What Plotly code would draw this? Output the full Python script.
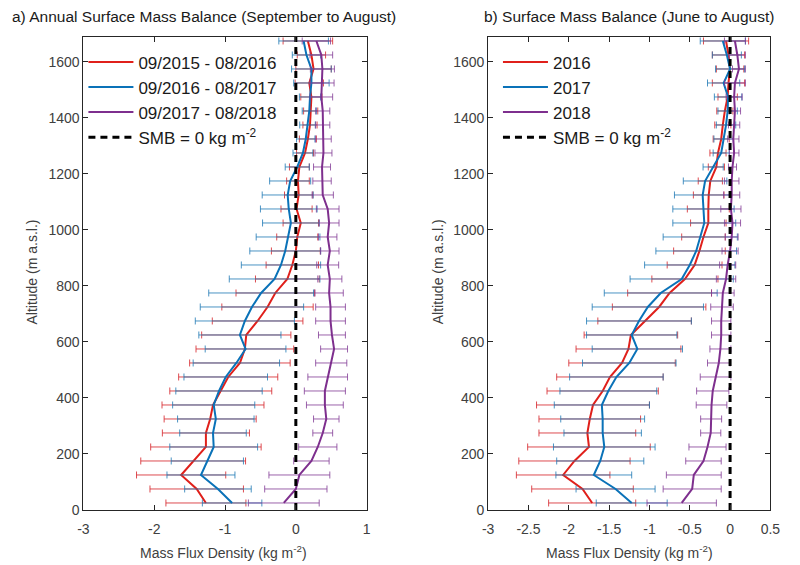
import plotly.graph_objects as go

# Altitude bins (m a.s.l.)
altitude = [25, 75, 125, 175, 225, 275, 325, 375, 425, 475, 525, 575, 625, 675, 725, 775, 825,
            875, 925, 975, 1025, 1075, 1125, 1175, 1225, 1275, 1325, 1375, 1425, 1475, 1525,
            1575, 1625, 1675]

# ---- Panel a) annual SMB (Sep-Aug) ----
a_2016_mean = [-1.27, -1.40, -1.62, -1.45, -1.27, -1.27, -1.21, -1.17, -1.06, -0.955, -0.79, -0.72,
               -0.70, -0.54, -0.40, -0.29, -0.12, -0.05, 0.00, 0.02, 0.07, 0.01, 0.04, 0.03, 0.05,
               0.13, 0.17, 0.20, 0.21, 0.22, 0.19, 0.25, 0.22, 0.17]
a_2016_err = [0.565, 0.66, 0.63, 0.74, 0.78, 0.615, 0.65, 0.72, 0.72, 0.70, 0.71, 0.69, 0.63, 0.64,
              0.645, 0.555, 0.45, 0.37, 0.345, 0.29, 0.25, 0.22, 0.20, 0.16, 0.14, 0.12, 0.12, 0.10,
              0.10, 0.15, 0.20, 0.25, 0.20, 0.35]
a_2017_mean = [-0.90, -1.10, -1.34, -1.25, -1.16, -1.17, -1.13, -1.16, -1.085, -0.99, -0.84, -0.71,
               -0.79, -0.72, -0.62, -0.49, -0.30, -0.21, -0.15, -0.11, -0.07, -0.10, -0.115, -0.08,
               0.02, 0.10, 0.14, 0.165, 0.19, 0.20, 0.22, 0.22, 0.15, 0.11]
a_2017_err = [0.42, 0.47, 0.48, 0.51, 0.62, 0.47, 0.54, 0.58, 0.61, 0.59, 0.61, 0.57, 0.58, 0.70,
              0.73, 0.74, 0.64, 0.56, 0.50, 0.45, 0.40, 0.40, 0.36, 0.29, 0.17, 0.14, 0.13, 0.11,
              0.10, 0.15, 0.25, 0.28, 0.20, 0.35]
a_2018_mean = [-0.17, 0.00, 0.05, 0.22, 0.31, 0.38, 0.43, 0.41, 0.41, 0.45, 0.50, 0.54, 0.51, 0.49,
               0.49, 0.47, 0.48, 0.45, 0.48, 0.45, 0.47, 0.45, 0.38, 0.37, 0.37, 0.39, 0.39, 0.38,
               0.38, 0.36, 0.37, 0.375, 0.36, 0.29]
a_2018_err = [0.50, 0.44, 0.43, 0.25, 0.27, 0.14, 0.18, 0.26, 0.29, 0.28, 0.22, 0.19, 0.19, 0.21,
              0.21, 0.20, 0.17, 0.155, 0.13, 0.13, 0.14, 0.16, 0.15, 0.13, 0.12, 0.12, 0.11, 0.10,
              0.10, 0.16, 0.17, 0.17, 0.16, 0.20]

# ---- Panel b) summer SMB (Jun-Aug) ----
b_2016_mean = [-1.71, -1.83, -2.07, -1.93, -1.75, -1.77, -1.74, -1.70, -1.58, -1.49, -1.34, -1.26,
               -1.23, -1.06, -0.88, -0.75, -0.56, -0.44, -0.38, -0.33, -0.27, -0.27, -0.265, -0.245,
               -0.17, -0.15, -0.11, -0.09, -0.065, -0.03, -0.02, 0.00, -0.02, -0.05]
b_2016_err = [0.54, 0.63, 0.58, 0.69, 0.76, 0.60, 0.63, 0.70, 0.69, 0.66, 0.66, 0.65, 0.58, 0.58,
              0.58, 0.52, 0.41, 0.34, 0.32, 0.27, 0.22, 0.26, 0.19, 0.15, 0.10, 0.10, 0.10, 0.10,
              0.10, 0.12, 0.20, 0.17, 0.20, 0.28]
b_2017_mean = [-1.22, -1.42, -1.69, -1.61, -1.56, -1.58, -1.58, -1.59, -1.51, -1.41, -1.25, -1.15,
               -1.22, -1.13, -1.02, -0.86, -0.60, -0.50, -0.42, -0.37, -0.32, -0.33, -0.34, -0.31,
               -0.21, -0.11, -0.08, -0.05, -0.03, -0.025, -0.08, 0.00, -0.04, -0.09]
b_2017_err = [0.44, 0.49, 0.47, 0.54, 0.63, 0.48, 0.52, 0.59, 0.60, 0.58, 0.58, 0.56, 0.56, 0.65,
              0.69, 0.70, 0.64, 0.56, 0.50, 0.46, 0.39, 0.38, 0.35, 0.27, 0.125, 0.10, 0.12, 0.12,
              0.12, 0.17, 0.20, 0.18, 0.18, 0.28]
b_2018_mean = [-0.60, -0.47, -0.45, -0.33, -0.28, -0.24, -0.235, -0.23, -0.215, -0.18, -0.14, -0.12,
               -0.11, -0.11, -0.10, -0.09, -0.05, -0.03, 0.00, 0.02, 0.03, 0.01, 0.02, 0.02, 0.03,
               0.05, 0.04, 0.05, 0.06, 0.05, 0.06, 0.11, 0.09, 0.06]
b_2018_err = [0.43, 0.36, 0.34, 0.22, 0.23, 0.125, 0.13, 0.19, 0.20, 0.19, 0.14, 0.13, 0.12, 0.12,
              0.14, 0.14, 0.12, 0.10, 0.10, 0.08, 0.10, 0.125, 0.10, 0.09, 0.05, 0.06, 0.07, 0.07,
              0.07, 0.10, 0.13, 0.08, 0.10, 0.13]

names_a = ["09/2015 - 08/2016", "09/2016 - 08/2017", "09/2017 - 08/2018"]
names_b = ["2016", "2017", "2018"]
smb_name = "SMB = 0 kg m<sup>-2</sup>"
smb_zero = [0, 0]
smb_alt = [0, 1690]

x_ticks_a = [-3, -2, -1, 0, 1]
x_ticks_b = [-3, -2.5, -2, -1.5, -1, -0.5, 0, 0.5]
y_ticks = [0, 200, 400, 600, 800, 1000, 1200, 1400, 1600]

line_colors = ["#E0201B", "#0A72B8", "#7E2F8E"]
err_colors = ["rgba(215,45,50,0.85)", "rgba(30,120,180,0.8)", "rgba(130,60,150,0.8)"]

FONT = "Liberation Sans, Arial, Helvetica, sans-serif"
fig = go.Figure()

panels = [
    ("x", "y", "legend", names_a,
     [(a_2016_mean, a_2016_err), (a_2017_mean, a_2017_err), (a_2018_mean, a_2018_err)]),
    ("x2", "y2", "legend2", names_b,
     [(b_2016_mean, b_2016_err), (b_2017_mean, b_2017_err), (b_2018_mean, b_2018_err)]),
]

for xa, ya, lg, names, series in panels:
    for i, (m, e) in enumerate(series):
        fig.add_trace(go.Scatter(
            x=m, y=altitude, mode="markers", marker=dict(size=1, opacity=0),
            error_x=dict(type="data", array=e, symmetric=True, color=err_colors[i],
                         thickness=1, width=3.5),
            showlegend=False, hoverinfo="skip", xaxis=xa, yaxis=ya))
        fig.add_trace(go.Scatter(
            x=m, y=altitude, mode="lines", line=dict(color=line_colors[i], width=2),
            name=names[i], legend=lg, xaxis=xa, yaxis=ya))
    fig.add_trace(go.Scatter(
        x=smb_zero, y=smb_alt, mode="lines",
        line=dict(color="black", width=3, dash="7px,5px"),
        name=smb_name, legend=lg, xaxis=xa, yaxis=ya))

ax_common = dict(showline=True, mirror="ticks", ticks="inside", ticklen=5, tickwidth=1,
                 linecolor="#262626", linewidth=1, tickcolor="#262626", showgrid=False,
                 zeroline=False, tickfont=dict(family=FONT, size=14, color="#404040"))

y0 = (565 - 517.3) / 565
y1 = (565 - 37.3) / 565

fig.update_layout(
    width=800, height=565, margin=dict(l=0, r=0, t=0, b=0),
    plot_bgcolor="white", paper_bgcolor="white",
    font=dict(family=FONT, color="#262626"),
    xaxis=dict(domain=[79 / 800, 368 / 800], range=[-3, 1], tickvals=x_ticks_a,
               ticktext=[str(v) for v in x_ticks_a], anchor="y", ticklabelstandoff=6,
               **ax_common),
    yaxis=dict(domain=[y0, y1], range=[0, 1690], tickvals=y_ticks, anchor="x", **ax_common),
    xaxis2=dict(domain=[492 / 800, 780 / 800], range=[-3, 0.5], tickvals=x_ticks_b,
                ticktext=[("%g" % v) for v in x_ticks_b], anchor="y2", ticklabelstandoff=6,
                **ax_common),
    yaxis2=dict(domain=[y0, y1], range=[0, 1690], tickvals=y_ticks, anchor="x2", **ax_common),
    legend=dict(x=79 / 800, y=(565 - 45) / 565, xanchor="left", yanchor="top",
                bgcolor="rgba(255,255,255,0)", borderwidth=0, itemwidth=45,
                font=dict(family=FONT, size=17, color="#1a1a1a"), tracegroupgap=0),
    legend2=dict(x=502 / 800, y=(565 - 45) / 565, xanchor="left", yanchor="top",
                 bgcolor="rgba(255,255,255,0)", borderwidth=0, itemwidth=45,
                 font=dict(family=FONT, size=17, color="#1a1a1a"), tracegroupgap=0),
    showlegend=True,
    annotations=[
        dict(text="a) Annual Surface Mass Balance (September to August)", x=4 / 800,
             y=(565 - 17) / 565, xref="paper", yref="paper", xanchor="left", yanchor="middle",
             showarrow=False, font=dict(family=FONT, size=15.5, color="#1a1a1a")),
        dict(text="b) Surface Mass Balance (June to August)", x=636 / 800,
             y=(565 - 17) / 565, xref="paper", yref="paper", xanchor="center", yanchor="middle",
             showarrow=False, font=dict(family=FONT, size=15.5, color="#1a1a1a")),
        dict(text="Mass Flux Density (kg m<sup>-2</sup>)", x=222 / 800, y=(565 - 560) / 565,
             xref="paper", yref="paper", xanchor="center", yanchor="middle", showarrow=False,
             font=dict(family=FONT, size=14, color="#404040")),
        dict(text="Mass Flux Density (kg m<sup>-2</sup>)", x=636 / 800, y=(565 - 560) / 565,
             xref="paper", yref="paper", xanchor="center", yanchor="middle", showarrow=False,
             font=dict(family=FONT, size=14, color="#404040")),
        dict(text="Altitude (m a.s.l.)", x=27 / 800, y=(565 - 276) / 565, xref="paper",
             yref="paper", xanchor="center", yanchor="middle", textangle=-90, showarrow=False,
             font=dict(family=FONT, size=14, color="#404040")),
        dict(text="Altitude (m a.s.l.)", x=441 / 800, y=(565 - 276) / 565, xref="paper",
             yref="paper", xanchor="center", yanchor="middle", textangle=-90, showarrow=False,
             font=dict(family=FONT, size=14, color="#404040")),
    ],
)

fig.write_html("out.html")
